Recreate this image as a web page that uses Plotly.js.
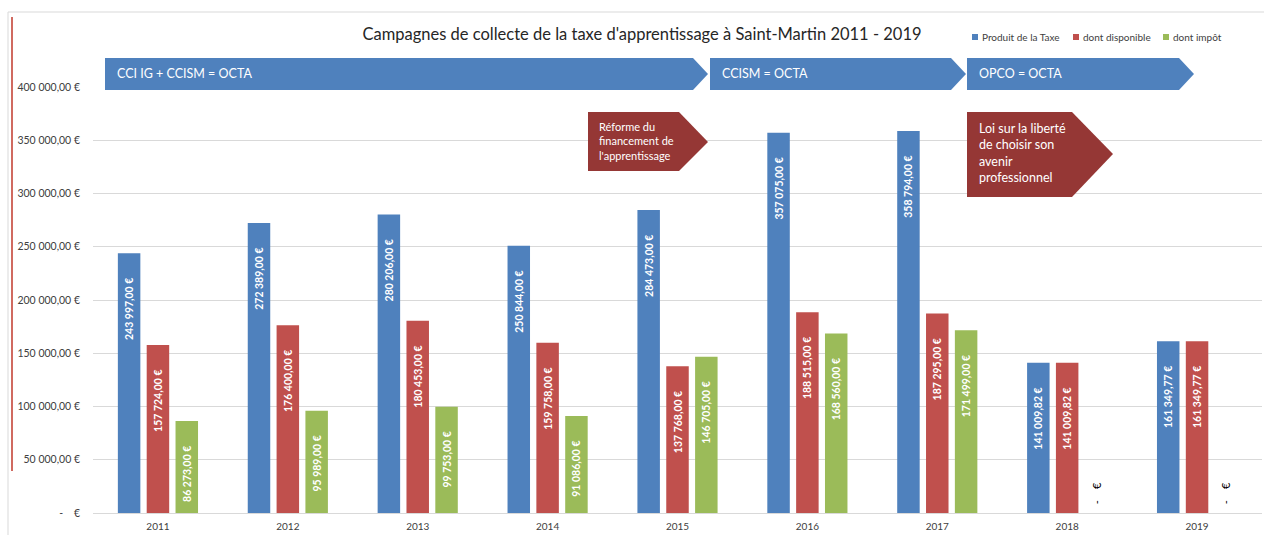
<!DOCTYPE html>
<html>
<head>
<meta charset="utf-8">
<script src="https://cdn.plot.ly/plotly-3.0.1.min.js"></script>
<style>html,body{margin:0;padding:0;background:#fff;}#chart{width:1264px;height:535px;}</style>
</head>
<body>
<div id="chart"></div>
<script>
// ---- data ----
var years = ['2011','2012','2013','2014','2015','2016','2017','2018','2019'];
var produitTaxe = [243997.00, 272389.00, 280206.00, 250844.00, 284473.00, 357075.00, 358794.00, 141009.82, 161349.77];
var dontDisponible = [157724.00, 176400.00, 180453.00, 159758.00, 137768.00, 188515.00, 187295.00, 141009.82, 161349.77];
var dontImpot = [86273.00, 95989.00, 99753.00, 91086.00, 146705.00, 168560.00, 171499.00, 0, 0];
var seriesNames = ['Produit de la Taxe', 'dont disponible', 'dont impôt'];
var yTickVals = [0, 50000, 100000, 150000, 200000, 250000, 300000, 350000, 400000];
var chartTitle = "Campagnes de collecte de la taxe d'apprentissage à Saint-Martin 2011 - 2019";
var phaseLabels = ['CCI IG + CCISM = OCTA', 'CCISM = OCTA', 'OPCO = OCTA'];
var reformLabels = ["Réforme du<br>financement de<br>l'apprentissage", "Loi sur la liberté<br>de choisir son<br>avenir<br>professionnel"];

var COLORS = ['#4F81BD', '#C0504D', '#9BBB59'];
var FONT = 'Lato, "Liberation Sans", sans-serif';
var NB = '\u00A0';

function euro(v) {
  if (v === 0) return '-' + NB + NB + NB + NB + '€';
  var s = v.toFixed(2).split('.');
  var ip = s[0].replace(/\B(?=(\d{3})+(?!\d))/g, ' ');
  return ip + ',' + s[1] + ' €';
}
function barText(v) {
  if (v === 0) return NB + NB + euro(v);
  return '<b>' + euro(v) + '</b>' + NB + NB + NB + NB + NB + NB + NB + NB;
}

// layout geometry (pixels)
var W = 1264, H = 535, ML = 93, MR = 2, MT = 87, MB = 22;
var PW = W - ML - MR, PH = H - MT - MB;
function px(x) { return (x - ML) / PW; }
function py(y) { return (H - MB - y) / PH; }
function poly(pts) {
  return 'M' + pts.map(function (p) { return px(p[0]).toFixed(5) + ',' + py(p[1]).toFixed(5); }).join('L') + 'Z';
}

var vals = [produitTaxe, dontDisponible, dontImpot];
var traces = vals.map(function (arr, k) {
  return {
    type: 'bar',
    name: seriesNames[k],
    x: years,
    y: arr,
    marker: {color: COLORS[k]},
    text: arr.map(barText),
    textposition: arr.map(function (v) { return v === 0 ? 'outside' : 'inside'; }),
    insidetextanchor: 'end',
    textangle: -90,
    insidetextfont: {color: '#FFFFFF', size: 10.5, family: FONT},
    outsidetextfont: {color: '#000000', size: 11, family: FONT},
    constraintext: 'none',
    cliponaxis: false,
    hoverinfo: 'x+y+name',
    showlegend: false
  };
});

var shapes = [];
var annotations = [];

// outer frame
shapes.push({type: 'line', xref: 'paper', yref: 'paper', x0: px(8), x1: px(8), y0: py(12), y1: py(535), line: {color: '#D9D9D9', width: 1}});
shapes.push({type: 'line', xref: 'paper', yref: 'paper', x0: px(8), x1: px(1264), y0: py(12), y1: py(12), line: {color: '#D9D9D9', width: 1}});
// red vertical line at left
shapes.push({type: 'line', xref: 'paper', yref: 'paper', x0: px(12), x1: px(12), y0: py(17), y1: py(471), line: {color: '#C0392B', width: 1.5}});

// phase arrows (blue)
var phaseArrows = [[105, 693, 708], [710, 951, 966], [967, 1179, 1194]];
phaseArrows.forEach(function (a, i) {
  shapes.push({type: 'path', xref: 'paper', yref: 'paper', layer: 'above',
    path: poly([[a[0], 58], [a[1], 58], [a[2], 74], [a[1], 90], [a[0], 90]]),
    fillcolor: '#4F81BD', line: {width: 0}});
  annotations.push({xref: 'paper', yref: 'paper', x: px(a[0] + 10), y: py(74), xanchor: 'left', yanchor: 'middle',
    text: phaseLabels[i], showarrow: false, font: {family: FONT, size: 12.5, color: '#FFFFFF'}});
});

// reform callouts (dark red)
var reformShapes = [
  {pts: [[588, 112], [679, 112], [708, 142], [679, 171], [588, 171]], tx: 597, ty: 141, fs: 11},
  {pts: [[967, 112], [1072, 112], [1113, 154], [1072, 197], [967, 197]], tx: 977, ty: 153, fs: 12.5}
];
reformShapes.forEach(function (r, i) {
  shapes.push({type: 'path', xref: 'paper', yref: 'paper', layer: 'above',
    path: poly(r.pts), fillcolor: '#953735', line: {width: 0}});
  annotations.push({xref: 'paper', yref: 'paper', x: px(r.tx), y: py(r.ty), xanchor: 'left', yanchor: 'middle', align: 'left',
    text: reformLabels[i], showarrow: false, font: {family: FONT, size: r.fs, color: '#FFFFFF'}});
});

// custom legend
var legendX = [972, 1073, 1163];
seriesNames.forEach(function (n, k) {
  shapes.push({type: 'rect', xref: 'paper', yref: 'paper', x0: px(legendX[k]), x1: px(legendX[k] + 6), y0: py(34), y1: py(40),
    fillcolor: COLORS[k], line: {width: 0}});
  annotations.push({xref: 'paper', yref: 'paper', x: px(legendX[k] + 8), y: py(37), xanchor: 'left', yanchor: 'middle',
    text: n, showarrow: false, font: {family: FONT, size: 10, color: '#404040'}});
});

var layout = {
  width: W, height: H,
  margin: {l: ML, r: MR, t: MT, b: MB, pad: 0},
  paper_bgcolor: '#FFFFFF', plot_bgcolor: '#FFFFFF',
  title: {text: chartTitle, x: 642 / W, xanchor: 'center', y: 1 - 34 / H, yanchor: 'middle',
    font: {family: FONT, size: 16.5, color: '#262626'}},
  barmode: 'group',
  bargap: 0.334,
  bargroupgap: 0.22,
  showlegend: false,
  xaxis: {type: 'category', showgrid: false, showline: true, linecolor: '#D9D9D9', linewidth: 1,
    ticks: '', tickfont: {family: FONT, size: 10, color: '#404040'}, ticklabelstandoff: 4, zeroline: false},
  yaxis: {range: [0, 400000], showgrid: true, gridcolor: '#D9D9D9', gridwidth: 1, zeroline: false,
    tickvals: yTickVals, ticktext: yTickVals.map(euro), ticks: '',
    tickfont: {family: FONT, size: 10.5, color: '#404040'}, ticklabelstandoff: 12},
  shapes: shapes,
  annotations: annotations
};

Plotly.newPlot('chart', traces, layout, {displayModeBar: false, staticPlot: false});
</script>
</body>
</html>
